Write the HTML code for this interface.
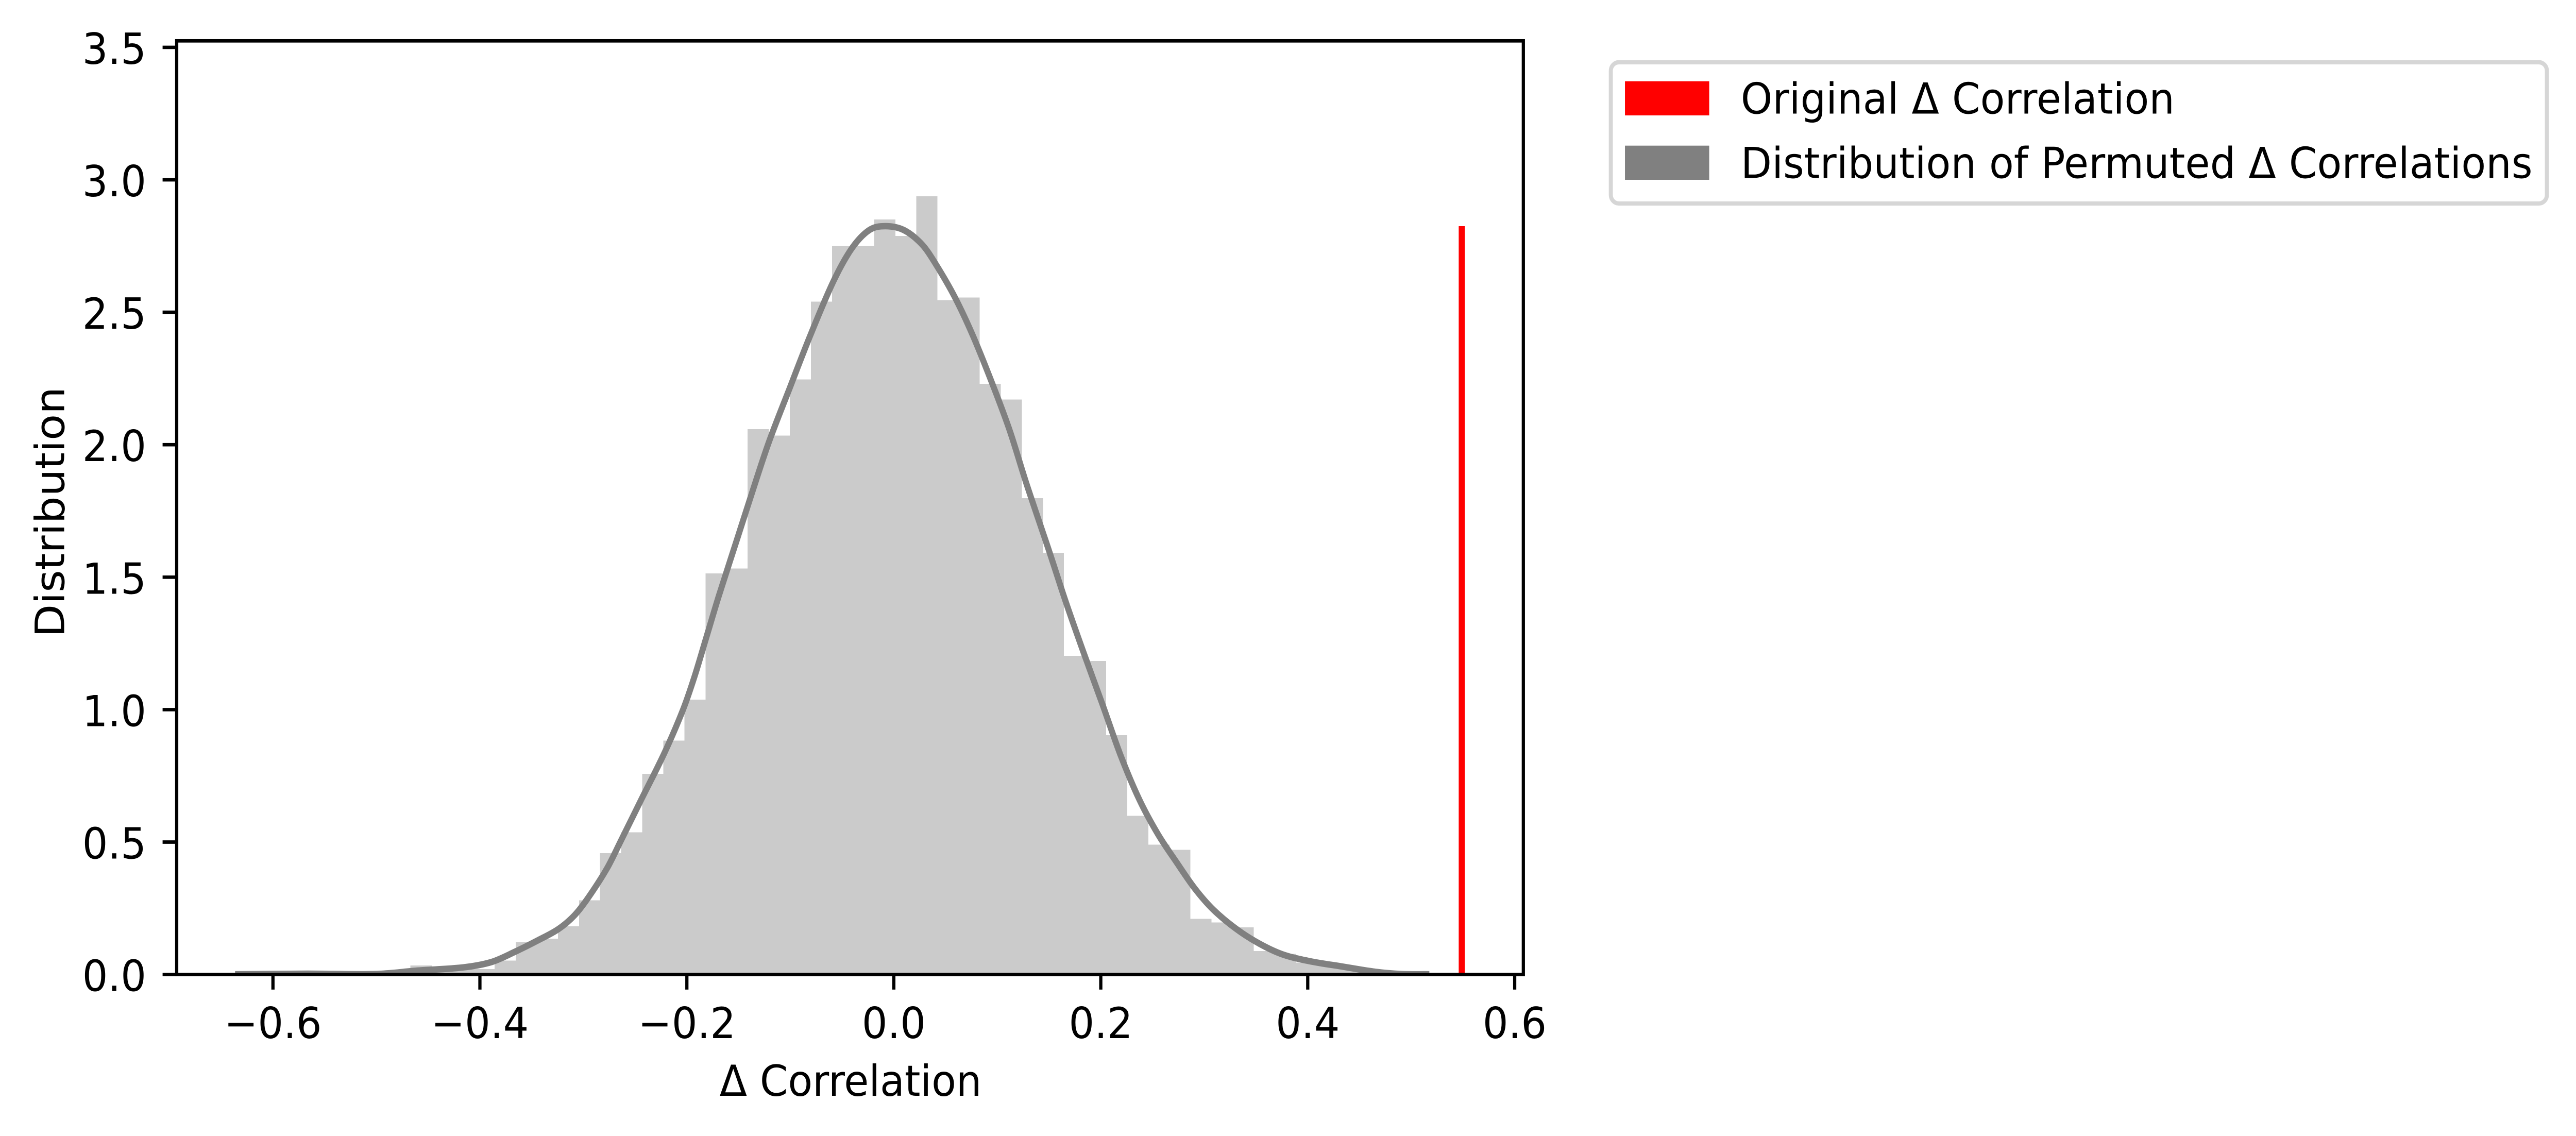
<!DOCTYPE html>
<html lang="en">
<head>
<meta charset="utf-8">
<title>Permuted Δ Correlation Distribution</title>
<style>
html,body{margin:0;padding:0;background:#fff;width:100%;height:100%;overflow:hidden;}
svg{display:block;width:100%;height:100%;}
text{font-family:"DejaVu Sans","Liberation Sans",sans-serif;font-size:83.33px;fill:#000;}
</style>
</head>
<body>
<svg id="chart" xmlns="http://www.w3.org/2000/svg" viewBox="0 0 5336 2205" preserveAspectRatio="none">
  <defs>
    <clipPath id="plot-clip"><rect x="366" y="79.3" width="2789.5" height="1812.3"></rect></clipPath>
  </defs>
  <rect x="0" y="0" width="5336" height="2205" fill="#ffffff"></rect>
  <g id="bars" clip-path="url(#plot-clip)"></g>
  <path id="kde" clip-path="url(#plot-clip)" fill="none" stroke="#808080" stroke-width="12.5" stroke-linejoin="round"></path>
  <line id="observed" clip-path="url(#plot-clip)" stroke="#ff0000" stroke-width="12.5"></line>
  <g id="x-ticks"></g>
  <g id="y-ticks"></g>
  <rect x="366" y="79.3" width="2789.5" height="1812.3" fill="none" stroke="#000" stroke-width="6.67" stroke-linejoin="miter"></rect>
  <text x="1762" y="2127" text-anchor="middle">Δ Correlation</text>
  <text x="133" y="994" text-anchor="middle" transform="rotate(-90 133 994)">Distribution</text>
  <g>
    <rect x="3336.7" y="120.8" width="1939" height="274.2" rx="16.7" ry="16.7" fill="#ffffff" stroke="#d6d6d6" stroke-width="8.33"></rect>
    <rect x="3366" y="157.7" width="174.5" height="66.3" fill="#ff0000"></rect>
    <text x="3606" y="220.7" letter-spacing="0.15">Original Δ Correlation</text>
    <rect x="3366" y="282.7" width="174.5" height="66.3" fill="#808080"></rect>
    <text x="3606" y="345.7" letter-spacing="0.15">Distribution of Permuted Δ Correlations</text>
  </g>
</svg>
<script>
const xTickValues = [-0.6, -0.4, -0.2, 0.0, 0.2, 0.4, 0.6];
const xTickLabels = ["\u22120.6", "\u22120.4", "\u22120.2", "0.0", "0.2", "0.4", "0.6"];
const yTickValues = [0, 0.5, 1, 1.5, 2, 2.5, 3, 3.5];
const yTickLabels = ["0.0", "0.5", "1.0", "1.5", "2.0", "2.5", "3.0", "3.5"];
const binStart = -0.46722;
const binWidth = 0.02037;
const binDensity = [0.034, 0.02, 0.02, 0.0206, 0.053, 0.123, 0.135, 0.182, 0.28, 0.458, 0.537, 0.758, 0.883, 1.038, 1.514, 1.533, 2.059, 2.034, 2.246, 2.54, 2.751, 2.751, 2.85, 2.788, 2.938, 2.546, 2.556, 2.23, 2.171, 1.798, 1.592, 1.203, 1.184, 0.904, 0.599, 0.49, 0.471, 0.21, 0.197, 0.178, 0.089, 0.078, 0.045, 0.04, 0.029, 0.012, 0.006];
const kdeX = [-0.6366, -0.567, -0.5, -0.46, -0.416, -0.389, -0.3666, -0.344, -0.324, -0.3085, -0.295, -0.277, -0.264, -0.244, -0.2215, -0.2037, -0.1926, -0.1814, -0.1689, -0.152, -0.139, -0.1211, -0.101, -0.081, -0.0586, -0.0408, -0.0238, -0.0082, 0.0098, 0.0275, 0.0408, 0.0588, 0.0766, 0.0967, 0.1123, 0.128, 0.1503, 0.1659, 0.1837, 0.2016, 0.2194, 0.2373, 0.2552, 0.273, 0.2908, 0.3087, 0.331, 0.3533, 0.3757, 0.4023, 0.4336, 0.4649, 0.49, 0.5175];
const kdeY = [0.001, 0.003, 0.002, 0.015, 0.027, 0.047, 0.085, 0.129, 0.172, 0.224, 0.292, 0.402, 0.503, 0.661, 0.838, 1.0, 1.125, 1.27, 1.432, 1.637, 1.795, 2.006, 2.21, 2.41, 2.615, 2.74, 2.81, 2.825, 2.81, 2.755, 2.68, 2.558, 2.41, 2.215, 2.05, 1.855, 1.596, 1.41, 1.212, 1.02, 0.825, 0.66, 0.53, 0.425, 0.325, 0.245, 0.172, 0.1165, 0.076, 0.05, 0.03, 0.0105, 0.002, 0.001];
const observedValue = 0.5488;
const observedHeight = 2.825;

const NS = 'http://www.w3.org/2000/svg';
function xScale(v) { return 1851.5 + v * 2143.5; }
function yScale(v) { return 1891.6 - v * 514.2; }

const barsGroup = document.getElementById('bars');
binDensity.forEach(function (d, i) {
  const left = xScale(binStart + i * binWidth);
  const right = xScale(binStart + (i + 1) * binWidth);
  const rect = document.createElementNS(NS, 'rect');
  
  
  rect.setAttribute('x', left);
  rect.setAttribute('y', yScale(d));
  rect.setAttribute('width', right - left + 0.4);
  rect.setAttribute('height', yScale(0) - yScale(d));
  rect.setAttribute('fill', '#cbcbcb');
  rect.setAttribute('shape-rendering', 'crispEdges');
  barsGroup.appendChild(rect);
});

(function drawKde() {
  const pts = kdeX.map(function (x, i) { return [xScale(x), yScale(kdeY[i])]; });
  let d = 'M' + pts[0][0] + ' ' + pts[0][1];
  for (let i = 0; i < pts.length - 1; i++) {
    const p0 = pts[Math.max(0, i - 1)];
    const p1 = pts[i];
    const p2 = pts[i + 1];
    const p3 = pts[Math.min(pts.length - 1, i + 2)];
    const h = p2[0] - p1[0];
    const m1 = (p2[1] - p0[1]) / (p2[0] - p0[0]);
    const m2 = (p3[1] - p1[1]) / (p3[0] - p1[0]);
    d += 'C' + (p1[0] + h / 3) + ' ' + (p1[1] + m1 * h / 3) + ' ' + (p2[0] - h / 3) + ' ' + (p2[1] - m2 * h / 3) + ' ' + p2[0] + ' ' + p2[1];
  }
  document.getElementById('kde').setAttribute('d', d);
})();

const observedLine = document.getElementById('observed');
observedLine.setAttribute('x1', xScale(observedValue));
observedLine.setAttribute('x2', xScale(observedValue));
observedLine.setAttribute('y1', yScale(0));
observedLine.setAttribute('y2', yScale(observedHeight));

const xTicksGroup = document.getElementById('x-ticks');
xTickValues.forEach(function (v, i) {
  const tick = document.createElementNS(NS, 'line');
  
  
  tick.setAttribute('x1', xScale(v));
  tick.setAttribute('x2', xScale(v));
  tick.setAttribute('y1', yScale(0));
  tick.setAttribute('y2', yScale(0) + 29.2);
  tick.setAttribute('stroke', '#000');
  tick.setAttribute('stroke-width', '6.67');
  xTicksGroup.appendChild(tick);
  const label = document.createElementNS(NS, 'text');
  
  
  label.setAttribute('x', xScale(v));
  label.setAttribute('y', 2015);
  label.setAttribute('text-anchor', 'middle');
  label.textContent = xTickLabels[i];
  xTicksGroup.appendChild(label);
});

const yTicksGroup = document.getElementById('y-ticks');
yTickValues.forEach(function (v, i) {
  const tick = document.createElementNS(NS, 'line');
  
  
  tick.setAttribute('x1', 366);
  tick.setAttribute('x2', 336.8);
  tick.setAttribute('y1', yScale(v));
  tick.setAttribute('y2', yScale(v));
  tick.setAttribute('stroke', '#000');
  tick.setAttribute('stroke-width', '6.67');
  yTicksGroup.appendChild(tick);
  const label = document.createElementNS(NS, 'text');
  
  
  label.setAttribute('x', 303);
  label.setAttribute('y', yScale(v) + 32);
  label.setAttribute('text-anchor', 'end');
  label.textContent = yTickLabels[i];
  yTicksGroup.appendChild(label);
});
</script>
</body>
</html>
